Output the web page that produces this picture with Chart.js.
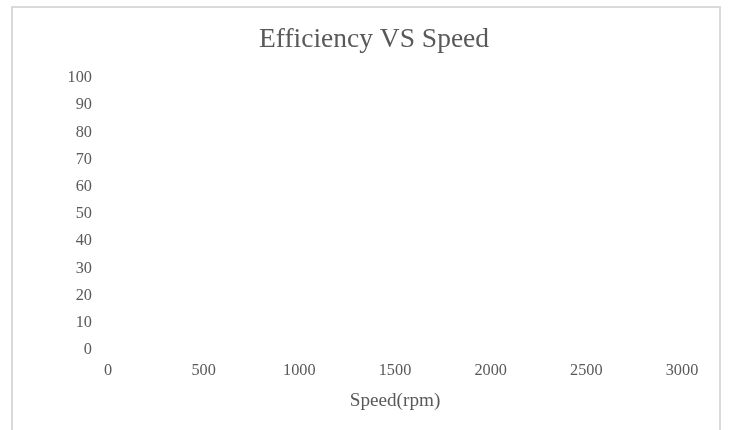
<!DOCTYPE html>
<html>
<head>
<meta charset="utf-8">
<script src="https://cdn.jsdelivr.net/npm/chart.js@4/dist/chart.umd.min.js"></script>
<style>
  html, body { margin: 0; padding: 0; background: #ffffff; overflow: hidden; }
  #wrap { position: relative; width: 729px; height: 430px; }
  #frame { position: absolute; left: 11px; top: 6px; width: 706px; height: 440px; border: 2px solid #d9d9d9; box-sizing: content-box; }
  #c { position: absolute; left: 0; top: 0; }
</style>
</head>
<body>
<div id="wrap">
  <div id="frame"></div>
  <canvas id="c" width="729" height="430"></canvas>
</div>
<script>
// Data (the reference chart shows no plotted points)
const speedRpm = [];
const efficiency = [];
const xTicks = [0, 500, 1000, 1500, 2000, 2500, 3000];
const yTicks = [0, 10, 20, 30, 40, 50, 60, 70, 80, 90, 100];

const chartTitle = 'Efficiency VS Speed';
const xTitle = 'Speed(rpm)';

const FONT = '"Liberation Serif", "Times New Roman", serif';
const TXT = '#595959';

const points = speedRpm.map((s, i) => ({ x: s, y: efficiency[i] }));

new Chart(document.getElementById('c'), {
  type: 'scatter',
  data: {
    datasets: [{
      label: 'Efficiency',
      data: points,
      borderColor: '#4472c4',
      backgroundColor: '#4472c4',
      pointRadius: 3,
      showLine: true
    }]
  },
  options: {
    responsive: false,
    animation: false,
    devicePixelRatio: 1,
    layout: { padding: { left: 66, right: 47, top: 0, bottom: 0 } },
    plugins: {
      legend: { display: false },
      tooltip: { enabled: false },
      title: {
        display: true,
        text: chartTitle,
        color: TXT,
        font: { family: FONT, size: 27.5, weight: 'normal', lineHeight: 1.2 },
        padding: { top: 23, bottom: 22 }
      }
    },
    scales: {
      x: {
        type: 'linear',
        position: 'bottom',
        min: xTicks[0],
        max: xTicks[xTicks.length - 1],
        afterBuildTicks: s => { s.ticks = xTicks.map(v => ({ value: v })); },
        afterFit: s => { s.height = 80; },
        grid: { display: false, drawTicks: false },
        border: { display: false },
        ticks: {
          color: TXT,
          padding: 11,
          maxRotation: 0,
          callback: v => String(v),
          font: { family: FONT, size: 16.3, lineHeight: 1.2 }
        },
        title: {
          display: true,
          text: xTitle,
          color: TXT,
          font: { family: FONT, size: 19.2, lineHeight: 1.2 },
          padding: { top: 0, bottom: 18 }
        }
      },
      y: {
        type: 'linear',
        min: yTicks[0],
        max: yTicks[yTicks.length - 1],
        afterBuildTicks: s => { s.ticks = yTicks.map(v => ({ value: v })); },
        afterFit: s => { s.width = 42; },
        grid: { display: false, drawTicks: false },
        border: { display: false },
        ticks: {
          color: TXT,
          padding: 16,
          callback: v => String(v),
          font: { family: FONT, size: 16.3, lineHeight: 1.2 }
        }
      }
    }
  }
});
</script>
</body>
</html>
